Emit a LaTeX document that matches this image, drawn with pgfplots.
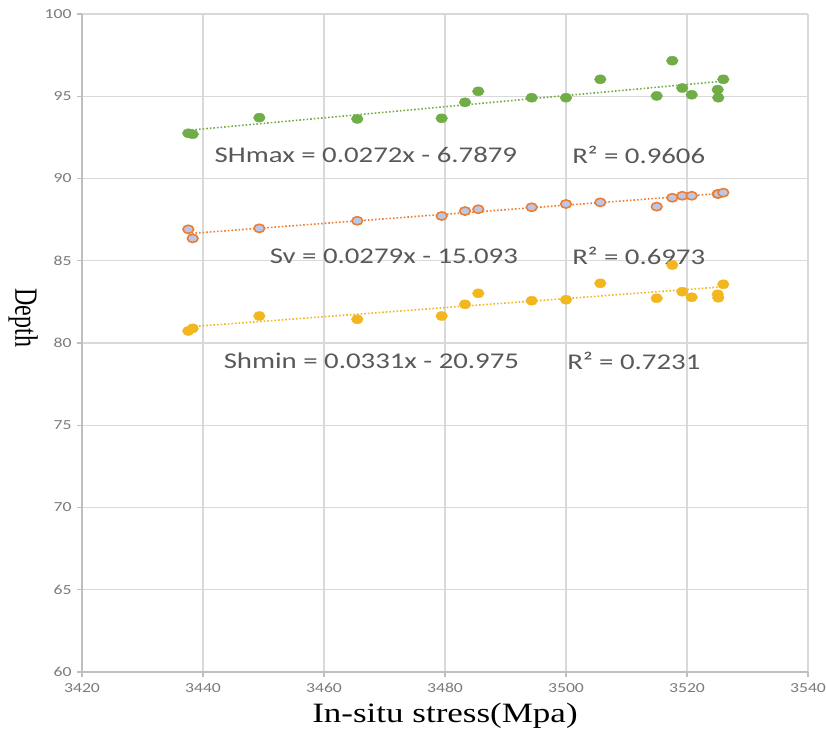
\documentclass[border=0pt]{standalone}
\usepackage{fontspec}
\usepackage{pgfplots}
\pgfplotsset{compat=1.18}
\newfontfamily\calfont[FakeStretch=1.28]{Carlito}
\newfontfamily\tnrfont{Liberation Serif}
\newfontfamily\tnrwide[FakeStretch=1.25]{Liberation Serif}
\definecolor{cgreen}{HTML}{70AD47}
\definecolor{corange}{HTML}{ED7D31}
\definecolor{cyellow}{HTML}{F2B71F}
\definecolor{cfill}{HTML}{BCC6EA}
\definecolor{ctext}{HTML}{595959}
\definecolor{cgrid}{HTML}{D9D9D9}
\definecolor{caxis}{HTML}{BFBFBF}
\begin{document}
\begin{tikzpicture}
\begin{axis}[
  scale only axis,
  width=726pt, height=658pt,
  xmin=3420, xmax=3540, ymin=60, ymax=100,
  xtick={3420,3440,...,3540},
  ytick={60,65,...,100},
  axis x line*=bottom, axis y line*=left,
  axis line style={draw=caxis, line width=1.3pt, -},
  grid=major,
  grid style={draw=cgrid, line width=1.3pt},
  tick align=outside,
  major tick length=5pt,
  tick style={draw=caxis, line width=1.3pt},
  /pgf/number format/assume math mode=true,
  /pgf/number format/1000 sep={},
  ticklabel style={font=\calfont\fontsize{13.8}{15}\selectfont, text=ctext!80},
  xticklabel style={yshift=-3pt},
  yticklabel style={xshift=-2pt},
  xlabel={\tnrwide\fontsize{28}{32}\selectfont In-situ stress(Mpa)},
  xlabel style={yshift=-3pt},
  ylabel={\scalebox{1}[1.35]{\tnrfont\fontsize{24}{26}\selectfont Depth}},
  ylabel style={rotate=180, at={(ticklabel cs:0.538)}},
  clip=false,
]
% trendlines
\addplot[cgreen, line width=1.6pt, dotted] coordinates {(3437.57,92.93) (3526,95.92)};
\addplot[corange, line width=1.6pt, dotted] coordinates {(3437.57,86.65) (3526,89.10)};
\addplot[cyellow, line width=1.6pt, dotted] coordinates {(3437.57,80.98) (3526,83.42)};
% SHmax
\addplot[only marks, mark=*, mark size=4.5pt, mark options={fill=cgreen, draw=cgreen, xscale=1.3}] table {
x y
3437.57 92.75
3438.30 92.69
3449.31 93.70
3465.50 93.62
3479.45 93.66
3483.31 94.63
3485.50 95.30
3494.33 94.91
3500.00 94.91
3505.67 96.03
3514.99 95.02
3517.57 97.16
3519.22 95.50
3520.78 95.09
3525.07 95.40
3525.17 94.91
3526.00 96.03
};
% Sv
\addplot[only marks, mark=*, mark size=4.1pt, mark options={fill=cfill, draw=corange, line width=1.6pt, xscale=1.3}] table {
x y
3437.57 86.91
3438.30 86.36
3449.31 86.97
3465.50 87.43
3479.45 87.72
3483.31 88.02
3485.50 88.13
3494.33 88.25
3500.00 88.45
3505.67 88.55
3514.99 88.29
3517.57 88.83
3519.22 88.95
3520.78 88.95
3525.07 89.06
3525.17 89.06
3526.00 89.14
};
% Shmin
\addplot[only marks, mark=*, mark size=4.5pt, mark options={fill=cyellow, draw=cyellow, xscale=1.3}] table {
x y
3437.57 80.73
3438.30 80.89
3449.31 81.64
3465.50 81.44
3479.45 81.64
3483.31 82.35
3485.50 83.02
3494.33 82.57
3500.00 82.63
3505.67 83.63
3514.99 82.72
3517.57 84.74
3519.22 83.12
3520.78 82.78
3525.07 82.96
3525.17 82.75
3526.00 83.57
};
\begin{scope}[every node/.style={anchor=west, inner sep=0pt, text=ctext, font=\calfont\fontsize{22.5}{26}\selectfont}]
\node at (axis cs:3441.9,91.43) {SHmax = 0.0272x - 6.7879};
\node at (axis cs:3501.0,91.43) {R² = 0.9606};
\node at (axis cs:3451.0,85.29) {Sv = 0.0279x - 15.093};
\node at (axis cs:3501.0,85.29) {R² = 0.6973};
\node at (axis cs:3443.4,78.90) {Shmin = 0.0331x - 20.975};
\node at (axis cs:3500.2,78.90) {R² = 0.7231};
\end{scope}
\end{axis}
\pgfresetboundingbox
\path[use as bounding box] ([xshift=-82pt,yshift=-63pt]current axis.south west) rectangle ++(826pt,735pt);
\end{tikzpicture}
\end{document}
